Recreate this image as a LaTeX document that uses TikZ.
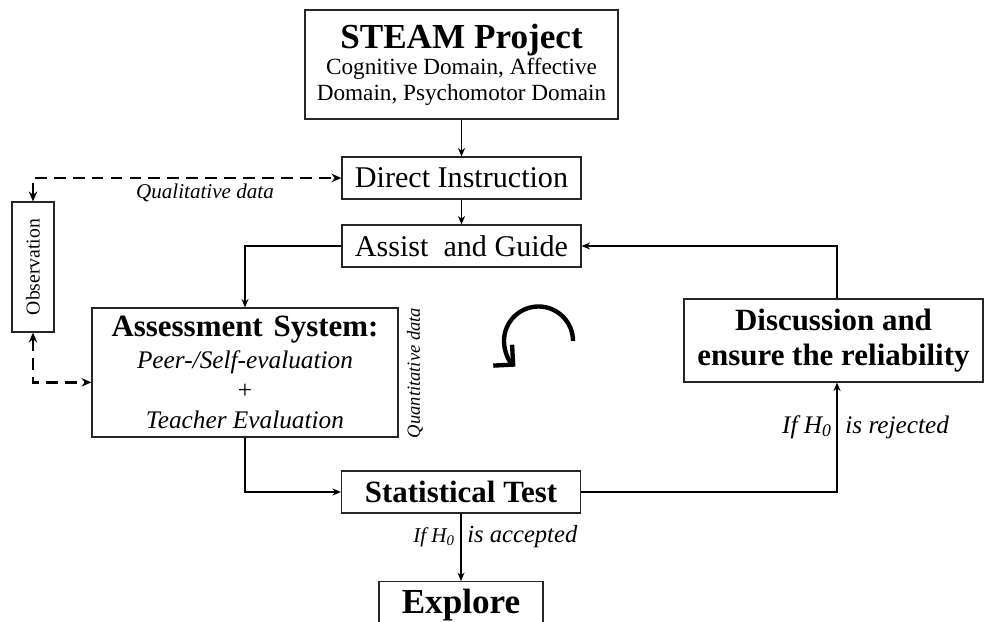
\documentclass[tikz,border=0pt]{standalone}
\usepackage{fontspec}
\setmainfont{Liberation Serif}
\usepackage{tikz}
\usetikzlibrary{arrows.meta,positioning,calc}

\begin{document}
\begin{tikzpicture}[
    x=0.025cm, y=-0.025cm,
    box/.style={rectangle, draw=black!85, line width=0.8pt, inner sep=0pt, align=center},
    arrow/.style={-{Stealth[length=6pt, width=5pt]}, line width=1.1pt},
    dasharrow/.style={{Stealth[length=7pt, width=6pt]}-{Stealth[length=7pt, width=6pt]}, line width=2pt, dash pattern=on 8.5pt off 5pt},
    cyclearrow/.style={-{Straight Barb[length=10pt, width=20pt]}, line width=3.1pt},
    lbl/.style={font=\itshape\fontsize{15}{17}\selectfont, inner sep=0pt}
]
    \useasboundingbox (0,0) rectangle (984,622);

    % Boxes
    \node[box, minimum width=7.825cm, minimum height=2.725cm, font=\fontsize{16.5}{18.5}\selectfont] (steam) at (461.5,64.5)
        {{\fontsize{25}{26}\selectfont\bfseries STEAM Project}\\ Cognitive Domain, Affective\\ Domain, Psychomotor Domain};
    \node[box, minimum width=5.975cm, minimum height=1.05cm, font=\fontsize{21.4}{24}\selectfont] (di) at (461.5,178) {Direct Instruction};
    \node[box, minimum width=5.975cm, minimum height=1.05cm, font=\fontsize{21.4}{24}\selectfont] (ag) at (461.5,246) {Assist\hspace{0.25em} and Guide};
    \node[box, minimum width=7.65cm, minimum height=3.225cm, font=\fontsize{18}{21.5}\selectfont] (as) at (245,372.5)
        {{\fontsize{22}{22}\selectfont\bfseries Assessment\hspace{0.1em} System:}\\[1pt] {\itshape Peer-/Self-evaluation}\\ + \\ {\itshape Teacher Evaluation}};
    \node[box, rotate=90, minimum width=3.25cm, minimum height=1.05cm, font=\fontsize{14}{16}\selectfont] (obs) at (33,267) {Observation};
    \node[box, minimum width=7.475cm, minimum height=2.075cm, font=\fontsize{22}{25}\selectfont\bfseries] (dc) at (833.5,340.5)
        {Discussion and\\ ensure the reliability};
    \node[box, minimum width=5.975cm, minimum height=1.05cm, font=\fontsize{22}{24}\selectfont\bfseries] (st) at (461,492) {Statistical Test};
    \node[box, anchor=north, minimum width=4.1cm, inner ysep=5.3pt, font=\fontsize{25}{28}\selectfont\bfseries] (ex) at (461,581) {Explore};

    % Main flow
    \draw[arrow] (steam) -- (di);
    \draw[arrow] (di) -- (ag);
    \draw[arrow] (ag.west) -| (as.north);
    \draw[arrow] (as.south) |- (st.west);
    \draw[arrow] (st.south) -- (ex.north);
    \draw[arrow] (st.east) -| ([xshift=2.5pt]dc.south);
    \draw[arrow] ([xshift=2.5pt]dc.north) |- (ag.east);

    % Observation loop
    \draw[dasharrow] (obs.east) |- (di.west);
    \draw[dasharrow] (obs.west) |- ([yshift=-7pt]as.west);

    % Labels
    \node[lbl, anchor=base] (qual) at (205,199) {Qualitative data};
    \node[lbl, rotate=90, font=\itshape\fontsize{13.2}{15}\selectfont] (quant) at (415,373) {Quantitative data};
    \node[lbl, anchor=base east, font=\itshape\fontsize{15}{17}\selectfont] (ifacc) at (455,542) {If H\textsubscript{0}};
    \node[lbl, anchor=base west, font=\itshape\fontsize{17.5}{19}\selectfont] (acc) at (467,542) {is accepted};
    \node[lbl, anchor=base east, font=\itshape\fontsize{18}{20}\selectfont] (ifrej) at (832,433) {If H\textsubscript{0}};
    \node[lbl, anchor=base west, font=\itshape\fontsize{18}{20}\selectfont] (rej) at (845,433) {is rejected};

    % Cycle symbol
    \draw[cyclearrow] (573,341) arc[start angle=0, end angle=-228, radius=34.5];
\end{tikzpicture}
\end{document}
